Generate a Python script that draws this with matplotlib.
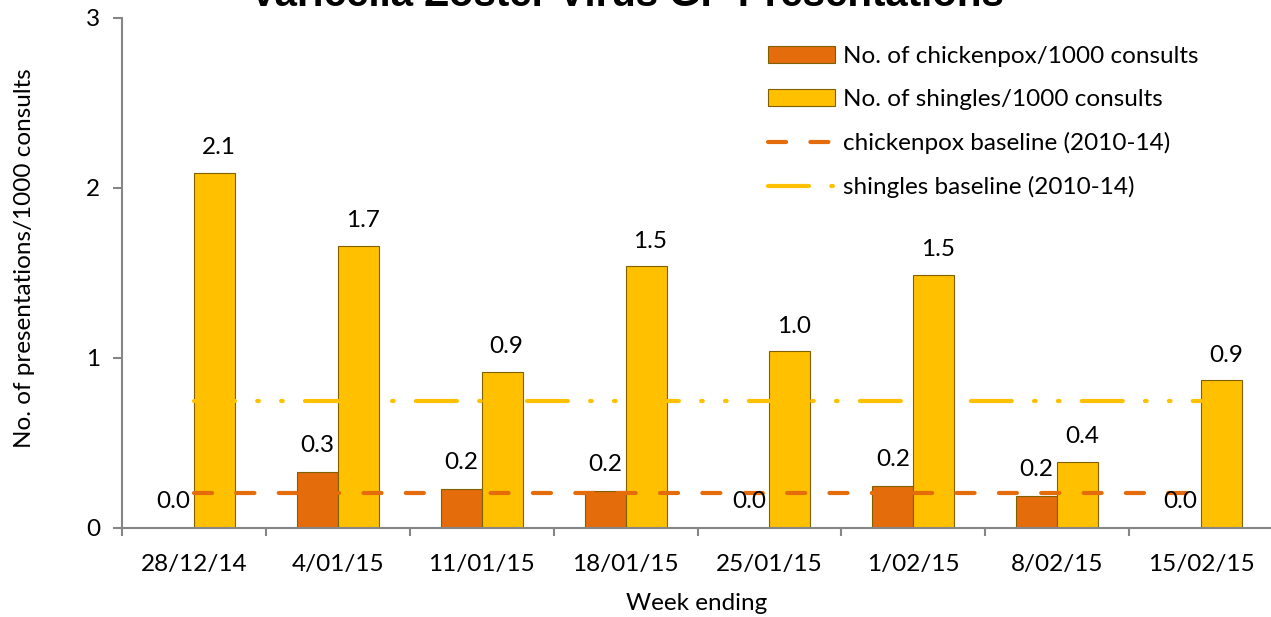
import numpy as np
import matplotlib
matplotlib.use("Agg")
import matplotlib.pyplot as plt

# data
weeks = ["28/12/14", "4/01/15", "11/01/15", "18/01/15",
         "25/01/15", "1/02/15", "8/02/15", "15/02/15"]
chickenpox = [0.0, 0.33, 0.23, 0.22, 0.0, 0.25, 0.19, 0.0]
shingles = [2.09, 1.66, 0.92, 1.54, 1.04, 1.49, 0.39, 0.87]
chickenpox_base = 0.205
shingles_base = 0.745

pox_col = "#E46C0A"
shing_col = "#FFC000"
edge_col = "#7F6000"
grey = "#868686"
txt_font = "Lato"

plt.rcParams["lines.scale_dashes"] = False
plt.rcParams["font.family"] = txt_font

W, H = 1271, 617
fig = plt.figure(figsize=(W / 100, H / 100), dpi=100)
ax = fig.add_axes([122 / W, 89 / H, 1151 / W, 510 / H])

x = np.arange(len(weeks))
bw = 0.285
b1 = ax.bar(x, chickenpox, width=-bw, align="edge", color=pox_col,
            edgecolor=edge_col, linewidth=0.8, label="No. of chickenpox/1000 consults", zorder=2)
b2 = ax.bar(x, shingles, width=bw, align="edge", color=shing_col,
            edgecolor=edge_col, linewidth=0.8, label="No. of shingles/1000 consults", zorder=2)

l1, = ax.plot(x, [chickenpox_base] * len(x), color=pox_col, lw=3.0,
              dashes=(13, 17.5), dash_capstyle="round",
              label="chickenpox baseline (2010-14)", zorder=3)
l2, = ax.plot(x, [shingles_base] * len(x), color=shing_col, lw=3.0,
              dashes=(29.5, 16, 1.2, 16, 1.2, 16), dash_capstyle="round",
              label="shingles baseline (2010-14)", zorder=3)

for i in range(len(x)):
    ax.annotate("%.1f" % chickenpox[i], (x[i] - bw / 2, chickenpox[i]),
                xytext=(0, 19), textcoords="offset points",
                ha="center", va="center", fontsize=17.5, zorder=4)
    ax.annotate("%.1f" % shingles[i], (x[i] + bw / 2 + 0.03, shingles[i]),
                xytext=(0, 18), textcoords="offset points",
                ha="center", va="center", fontsize=17.5, zorder=4)

ax.set_xlim(-0.5, len(x) - 0.5)
ax.set_ylim(0, 3)
ax.set_yticks([0, 1, 2, 3])
ax.set_xticks(x)
ax.set_xticklabels(weeks)
ax.set_xticks(np.arange(-0.5, len(x), 1.0), minor=True)
ax.tick_params(axis="x", which="major", length=0, pad=19, labelsize=17.5)
ax.tick_params(axis="x", which="minor", length=6, width=1.5, color=grey, direction="out")
ax.tick_params(axis="y", length=6.5, width=1.5, color=grey, direction="out",
               pad=9, labelsize=17.5)

for s in ["top", "right"]:
    ax.spines[s].set_visible(False)
for s in ["left", "bottom"]:
    ax.spines[s].set_color(grey)
    ax.spines[s].set_linewidth(1.5)

leg = ax.legend(handles=[b1, b2, l1, l2], loc="upper left",
                bbox_to_anchor=(768 / W, 0.925),
                bbox_transform=fig.transFigure, frameon=False, fontsize=17.5,
                handlelength=2.75, handletextpad=0.35, labelspacing=0.9,
                borderpad=0, borderaxespad=0)

fig.text(627 / W, 1 - 6 / H, "Varicella Zoster Virus GP Presentations",
         ha="center", va="baseline", fontsize=29, fontweight="bold",
         family="Liberation Sans")
fig.text(697 / W, 1 - 603 / H, "Week ending", ha="center", va="center", fontsize=17.5)
fig.text(25 / W, 1 - 258 / H, "No. of presentations/1000 consults",
         ha="center", va="center", rotation=90, fontsize=17.5)

fig.savefig("out.png", dpi=100)
